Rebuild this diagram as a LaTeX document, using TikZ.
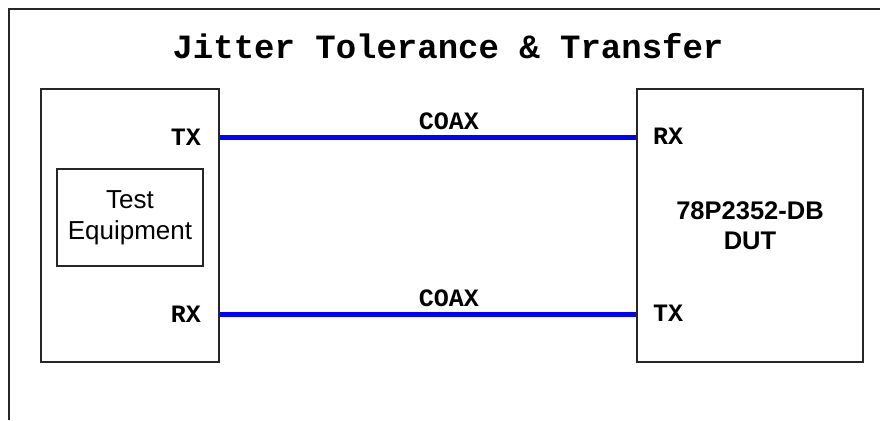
\documentclass[tikz,border=0pt]{standalone}
\usepackage{fontspec}
\setmainfont{Liberation Sans}
\newfontfamily\courierfont{Liberation Mono}
\tikzset{
  unitbox/.style={draw=black!85, line width=1.3pt, inner sep=0pt},
  coax/.style={draw=blue, line width=5pt},
  portlabel/.style={inner sep=0pt, font=\courierfont\bfseries\fontsize{25}{25}\selectfont},
  boxtext/.style={align=center, inner sep=0pt, font=\fontsize{26}{31}\selectfont}
}
\begin{document}
\begin{tikzpicture}[x=1pt, y=-1pt]
  \useasboundingbox (0,0) rectangle (880,420);
  \draw[draw=black!85, line width=1.3pt] (9,420) |- (880,9);
  \node[inner sep=0pt, font=\courierfont\bfseries\fontsize{34}{34}\selectfont] (title) at (448,46) {Jitter Tolerance \& Transfer};
  \draw
    (130,225.5) node[unitbox, minimum width=178, minimum height=273] (tester){}
    (130,217.5) node[unitbox, minimum width=146, minimum height=97, boxtext] (equip){Test\\Equipment}
    (750,225.5) node[unitbox, minimum width=226, minimum height=273, boxtext, font=\bfseries\fontsize{25.5}{30}\selectfont] (dut){78P2352-DB\\DUT};
  \coordinate (txL) at (tester.east |- 0,137);
  \coordinate (rxL) at (tester.east |- 0,314);
  \coordinate (rxR) at (dut.west |- 0,137);
  \coordinate (txR) at (dut.west |- 0,314);
  \node[portlabel, anchor=base east] (txLlabel) at (201,145) {TX};
  \node[portlabel, anchor=base east] (rxLlabel) at (201,322) {RX};
  \node[portlabel, anchor=base west] (rxRlabel) at (653,144) {RX};
  \node[portlabel, anchor=base west] (txRlabel) at (653,321) {TX};
  \begin{scope}[coax]
    \draw (txL) -- node[pos=0.55, above=5pt, portlabel, text=black] (coaxtop){COAX} (rxR);
    \draw (rxL) -- node[pos=0.55, above=5pt, portlabel, text=black] (coaxbottom){COAX} (txR);
  \end{scope}
\end{tikzpicture}
\end{document}
